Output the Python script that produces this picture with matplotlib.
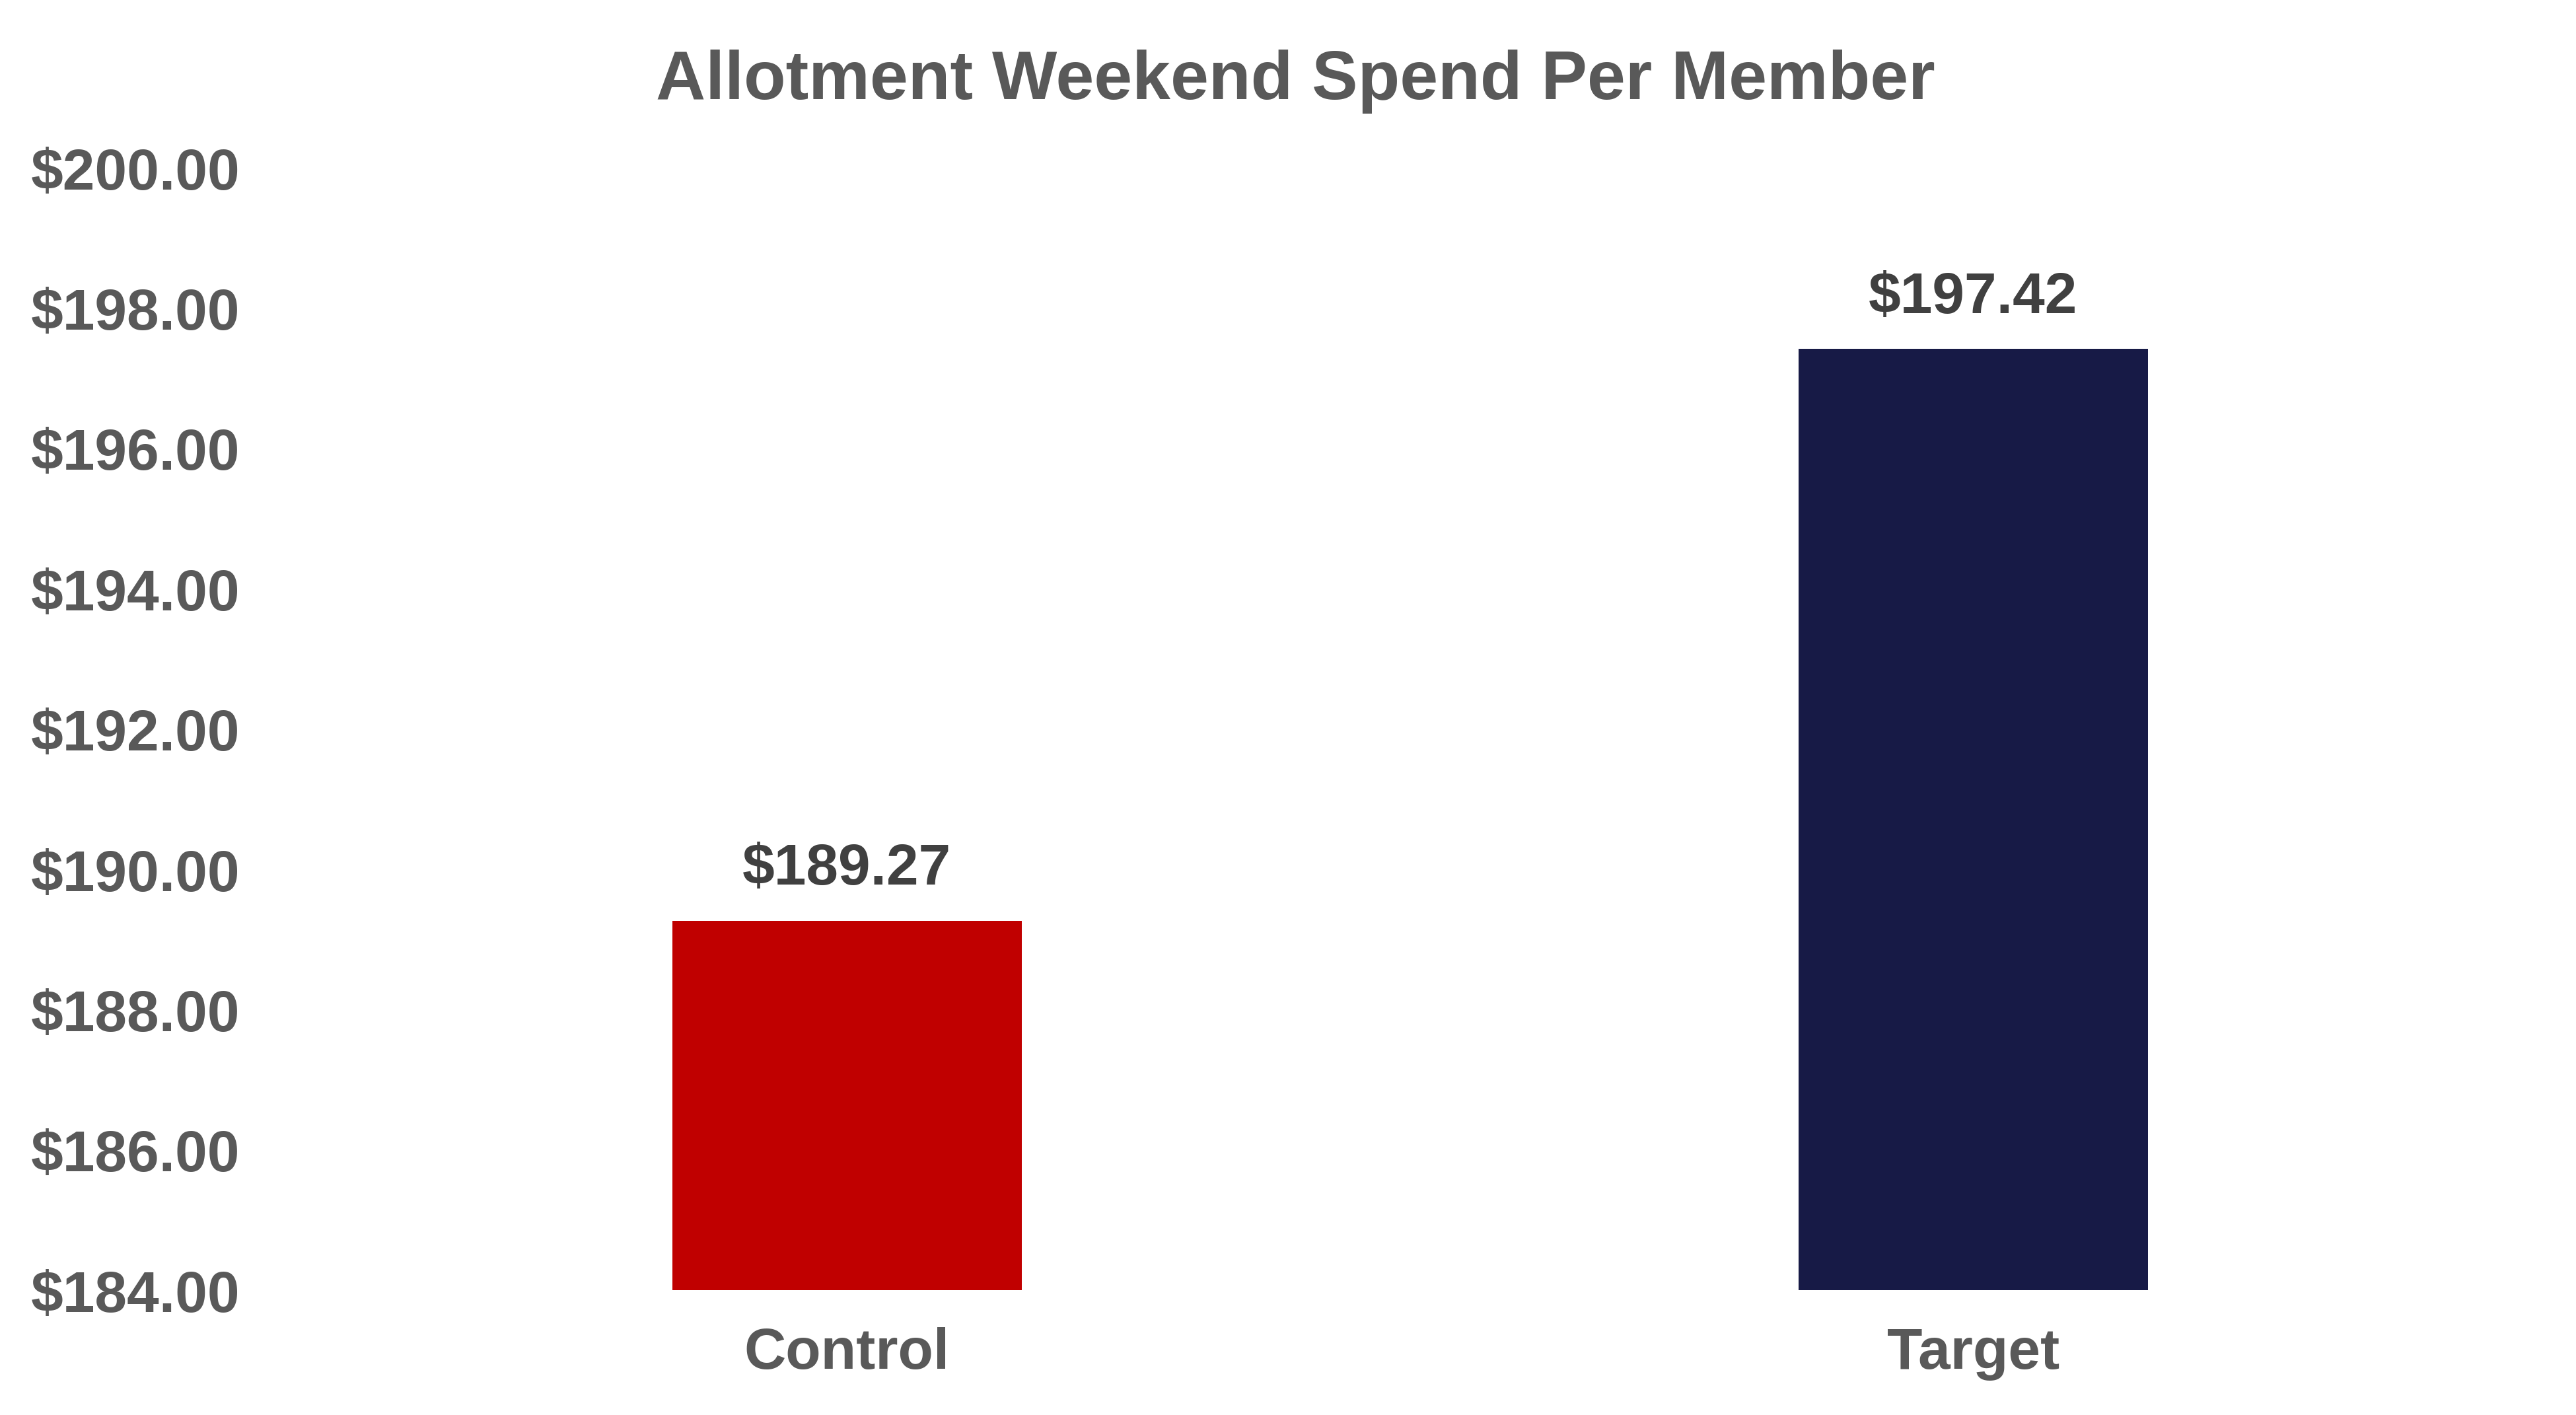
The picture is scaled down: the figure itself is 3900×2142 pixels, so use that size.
import matplotlib
matplotlib.use('Agg')
import matplotlib.pyplot as plt
from matplotlib.ticker import FuncFormatter

groups = ['Control', 'Target']
spend = [189.27, 197.42]
bar_colors = ['#C00000', '#171A46']
y_ticks = [184, 186, 188, 190, 192, 194, 196, 198, 200]

plt.rcParams['font.family'] = ['Liberation Sans', 'DejaVu Sans']
plt.rcParams['font.weight'] = 'bold'
gray = '#595959'

fig = plt.figure(figsize=(13, 7.1433), dpi=300)
ax = fig.add_axes([0.1102, 0.088, 0.8744, 0.793])

x = range(len(groups))
bars = ax.bar(x, [v - 184 for v in spend], bottom=184, width=0.31, color=bar_colors)

for b, v in zip(bars, spend):
	ax.annotate('${:.2f}'.format(v), (b.get_x() + b.get_width() / 2, b.get_y() + b.get_height()),
		xytext=(0, 9), textcoords='offset points', ha='center', va='bottom',
		fontsize=21, fontweight='bold', color='#404040')

ax.set_xlim(-0.5, 1.5)
ax.set_ylim(184, 200)
ax.set_yticks(y_ticks)
ax.yaxis.set_major_formatter(FuncFormatter(lambda v, p: '${:.2f}'.format(v)))
ax.set_xticks(list(x))
ax.set_xticklabels(groups)
ax.tick_params(axis='y', length=0, pad=16, labelsize=21, labelcolor=gray)
ax.tick_params(axis='x', length=0, pad=13, labelsize=21, labelcolor=gray)
for s in ax.spines.values():
	s.set_visible(False)

# title sits centred on the whole figure, not the axes
fig.text(0.503, 0.93, 'Allotment Weekend Spend Per Member', ha='center', va='baseline',
	fontsize=25, fontweight='bold', color=gray)

fig.savefig('out.png', dpi=300)
